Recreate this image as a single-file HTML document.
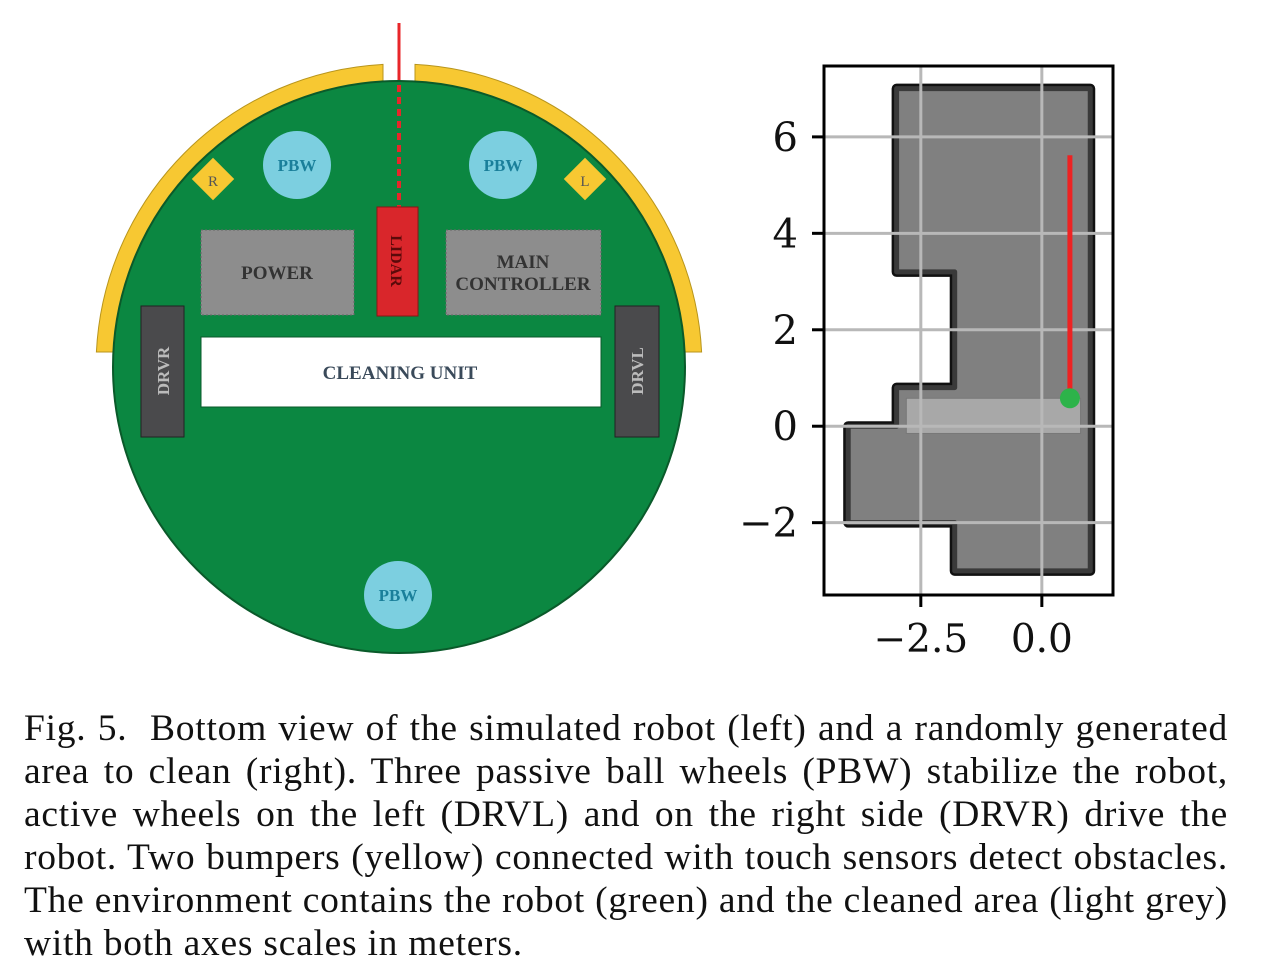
<!DOCTYPE html>
<html><head><meta charset="utf-8"><style>
html,body{margin:0;padding:0;background:#fff;}
body{width:1264px;height:966px;position:relative;overflow:hidden;}
#cap{position:absolute;left:24px;top:707px;width:1204px;font-family:"Liberation Serif",serif;font-size:37.5px;letter-spacing:0.75px;line-height:43px;text-align:justify;text-align-last:justify;color:#111;}
#cap span{display:block;white-space:nowrap;}
#cap span.last{text-align-last:left;}
</style></head><body>
<svg id="fig" width="1264" height="700" style="position:absolute;left:0;top:0" xmlns="http://www.w3.org/2000/svg">
<g>
 <line x1="399" y1="23" x2="399" y2="85" stroke="#e8262a" stroke-width="3"/>
 <path d="M96.4 352 A303 303 0 0 1 383 64.4 L383 81.4 A286 286 0 0 0 113.4 352 Z" fill="#f7c832" stroke="#b8951c" stroke-width="1"/>
 <path d="M701.6 352 A303 303 0 0 0 415 64.4 L415 81.4 A286 286 0 0 1 684.6 352 Z" fill="#f7c832" stroke="#b8951c" stroke-width="1"/>
 <circle cx="399" cy="367" r="286" fill="#0b8741" stroke="#0a5a2a" stroke-width="2"/>
 <rect x="198" y="164" width="30" height="30" transform="rotate(45 213 179)" fill="#f7c832"/>
 <text x="213" y="186" font-family="Liberation Serif,serif" font-size="15" text-anchor="middle" fill="#555">R</text>
 <rect x="570" y="164" width="30" height="30" transform="rotate(45 585 179)" fill="#f7c832"/>
 <text x="585" y="186" font-family="Liberation Serif,serif" font-size="15" text-anchor="middle" fill="#555">L</text>
 <line x1="399" y1="85" x2="399" y2="207" stroke="#e8262a" stroke-width="4" stroke-dasharray="7 5"/>
 <g font-family="Liberation Serif,serif" font-weight="bold" text-anchor="middle">
  <circle cx="297" cy="165" r="34" fill="#7ccfe0"/>
  <text x="297" y="171" font-size="17" fill="#1a7f9a">PBW</text>
  <circle cx="503" cy="165" r="34" fill="#7ccfe0"/>
  <text x="503" y="171" font-size="17" fill="#1a7f9a">PBW</text>
  <circle cx="398" cy="595" r="34" fill="#7ccfe0"/>
  <text x="398" y="601" font-size="17" fill="#1a7f9a">PBW</text>
  <rect x="201" y="230" width="153" height="85" fill="#8d8d8d" stroke="#666" stroke-dasharray="2 2"/>
  <text x="277" y="279" font-size="19" fill="#333">POWER</text>
  <rect x="446" y="230" width="155" height="85" fill="#8d8d8d" stroke="#666" stroke-dasharray="2 2"/>
  <text x="523" y="268" font-size="19" fill="#333">MAIN</text>
  <text x="523" y="290" font-size="19" fill="#333">CONTROLLER</text>
  <rect x="377" y="207" width="41" height="109" fill="#d9262b" stroke="#8a1515"/>
  <text x="0" y="0" font-size="16" fill="#5a0a0a" transform="translate(391 261) rotate(90)">LIDAR</text>
  <rect x="201" y="337" width="400" height="70" fill="#fff" stroke="#0a5a2a"/>
  <text x="400" y="379" font-size="19" fill="#3a4a5a">CLEANING UNIT</text>
  <rect x="141" y="306" width="43" height="131" fill="#4a4a4c" stroke="#222"/>
  <text x="0" y="0" font-size="17" fill="#bbb" transform="translate(169 371) rotate(-90)">DRVR</text>
  <rect x="615" y="306" width="44" height="131" fill="#4a4a4c" stroke="#222"/>
  <text x="0" y="0" font-size="17" fill="#bbb" transform="translate(643 371) rotate(-90)">DRVL</text>
 </g>
</g>
<g id="chart"></g>
</svg>
<div id="cap">
<span>Fig. 5.&nbsp; Bottom view of the simulated robot (left) and a randomly generated</span>
<span>area to clean (right). Three passive ball wheels (PBW) stabilize the robot,</span>
<span>active wheels on the left (DRVL) and on the right side (DRVR) drive the</span>
<span>robot. Two bumpers (yellow) connected with touch sensors detect obstacles.</span>
<span>The environment contains the robot (green) and the cleaned area (light grey)</span>
<span class="last">with both axes scales in meters.</span>
</div>
<script>
const xTicks=[-2.5,0.0];
const xTickLabels=["\u22122.5","0.0"];
const yTicks=[-2,0,2,4,6];
const yTickLabels=["\u22122","0","2","4","6"];
const areaX=[-3,1,1,-1.8,-1.8,-4,-4,-3,-3,-1.8,-1.8,-3];
const areaY=[7,7,-3,-3,-2,-2,0,0,0.8,0.8,3.2,3.2];
const cleanedX=[-2.8,0.8];
const cleanedY=[-0.15,0.58];
const pathX=[0.58,0.58];
const pathY=[5.62,0.58];
const robotPos=[0.58,0.58];
const xlim=[-4.5,1.47], ylim=[-3.5,7.47];
const L=824,R=1113,T=66,B=595;
const sx=v=>L+(v-xlim[0])/(xlim[1]-xlim[0])*(R-L);
const sy=v=>B-(v-ylim[0])/(ylim[1]-ylim[0])*(B-T);
const NS="http://www.w3.org/2000/svg";
const g=document.getElementById('chart');
function mk(t,a){const e=document.createElementNS(NS,t);for(const k in a)e.setAttribute(k,a[k]);g.appendChild(e);return e;}
const pts=areaX.map((x,i)=>sx(x)+','+sy(areaY[i])).join(' ');
let e=mk('polygon',{points:pts,fill:'#808080',stroke:'#111','stroke-width':10,'stroke-linejoin':'round'});


e=mk('polygon',{points:pts,fill:'#808080',stroke:'#3a3a3a','stroke-width':5,'stroke-linejoin':'round'});


e=mk('rect',{x:sx(cleanedX[0]),y:sy(cleanedY[1]),width:sx(cleanedX[1])-sx(cleanedX[0]),height:sy(cleanedY[0])-sy(cleanedY[1]),fill:'#a8a8a8',stroke:'#777','stroke-width':1});


xTicks.forEach((t,i)=>{
 let l=mk('line',{x1:sx(t),x2:sx(t),y1:T,y2:B,stroke:'#b8b8b8','stroke-width':3});
 
 
 l=mk('line',{x1:sx(t),x2:sx(t),y1:B,y2:B+12,stroke:'#000','stroke-width':3});
 
 
 const tx=mk('text',{x:sx(t),y:B+57,'font-family':'DejaVu Serif,serif','font-size':39,'text-anchor':'middle',fill:'#111'});
 tx.textContent=xTickLabels[i];
 
 
});
yTicks.forEach((t,i)=>{
 let l=mk('line',{x1:L,x2:R,y1:sy(t),y2:sy(t),stroke:'#b8b8b8','stroke-width':3});
 
 
 l=mk('line',{x1:L-12,x2:L,y1:sy(t),y2:sy(t),stroke:'#000','stroke-width':3});
 
 
 const tx=mk('text',{x:L-26,y:sy(t)+14,'font-family':'DejaVu Serif,serif','font-size':40,'text-anchor':'end',fill:'#111'});
 tx.textContent=yTickLabels[i];
 
 
});
e=mk('line',{x1:sx(pathX[0]),y1:sy(pathY[0]),x2:sx(pathX[1]),y2:sy(pathY[1]),stroke:'#ee2222','stroke-width':5});


e=mk('circle',{cx:sx(robotPos[0]),cy:sy(robotPos[1]),r:10,fill:'#2db34a'});


e=mk('rect',{x:L,y:T,width:R-L,height:B-T,fill:'none',stroke:'#000','stroke-width':3});


</script>
</body></html>
